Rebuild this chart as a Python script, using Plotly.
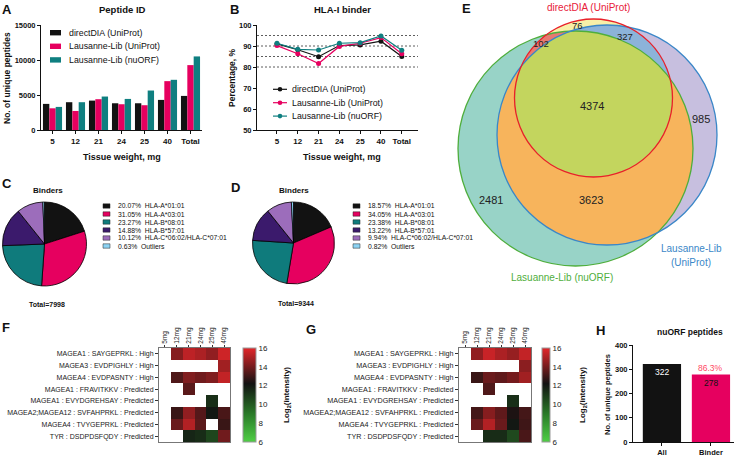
import numpy as np
import plotly.graph_objects as go

W, H = 734, 456
FONT = "Liberation Sans, Arial, Helvetica, sans-serif"


def px(x):
    return x / W


def py(y):
    return 1 - y / H


# ---------------- data ----------------
weights = ["5", "12", "21", "24", "25", "40", "Total"]
series_names = ["directDIA (UniProt)", "Lausanne-Lib (UniProt)", "Lausanne-Lib (nuORF)"]

peptides_direct = [3730, 3970, 4200, 3820, 3820, 4300, 4870]
peptides_laus_uni = [3100, 2720, 4400, 3680, 3540, 6980, 9270]
peptides_laus_nuorf = [3300, 3970, 4780, 4440, 5640, 7170, 10510]

binder_direct = [91.0, 88.2, 84.9, 90.2, 90.5, 92.3, 85.0]
binder_laus_uni = [90.2, 86.3, 81.7, 89.8, 91.3, 94.0, 86.3]
binder_laus_nuorf = [91.3, 88.4, 88.1, 91.3, 91.6, 94.8, 88.0]
binder_thresholds = [80, 85, 90, 95]

allele_labels = ["HLA-A*01:01", "HLA-A*03:01", "HLA-B*08:01", "HLA-B*57:01",
                 "HLA-C*06:02/HLA-C*07:01", "Outliers"]
pie_c_values = [20.07, 31.05, 23.27, 14.88, 10.12, 0.63]
pie_d_values = [18.57, 34.05, 23.38, 13.22, 9.94, 0.82]
pie_c_total = 7998
pie_d_total = 9344

venn_counts = {"76": "R", "102": "RG", "327": "RB", "4374": "RGB",
               "985": "B", "2481": "G", "3623": "GB"}

hm_cols = ["5mg", "12mg", "21mg", "24mg", "25mg", "40mg"]
hm_rows = ["MAGEA1 : SAYGEPRKL : High", "MAGEA3 : EVDPIGHLY : High",
           "MAGEA4 : EVDPASNTY : High", "MAGEA1 : FRAVITKKV : Predicted",
           "MAGEA1 : EVYDGREHSAY : Predicted", "MAGEA2;MAGEA12 : SVFAHPRKL : Predicted",
           "MAGEA4 : TVYGEPRKL : Predicted", "TYR : DSDPDSFQDY : Predicted"]
hm_f = [
    [None, 14.3, 15.3, 15.0, 14.5, 15.6],
    [None, None, None, None, None, 14.8],
    [None, 13.3, 14.2, 13.9, 14.2, 15.4],
    [None, None, 13.5, None, None, None],
    [None, None, None, None, 11.3, None],
    [None, 12.9, 14.5, 13.4, 12.0, 13.2],
    [None, 13.8, 15.1, 13.5, None, 12.9],
    [None, None, 11.6, 11.4, 10.6, 13.9],
]
hm_g = [
    [None, 14.5, 15.5, 15.0, 14.6, 15.4],
    [None, None, None, None, None, 14.4],
    [None, 12.9, 13.8, 13.6, 14.0, 14.8],
    [None, None, 13.3, None, None, None],
    [None, None, None, None, 11.3, None],
    [None, 13.1, 14.3, 13.6, 12.4, 13.1],
    [None, 13.8, 15.1, 13.8, 12.0, 13.0],
    [None, None, 11.4, 11.4, 10.5, 13.2],
]

nuorf_cats = ["All", "Binder"]
nuorf_vals = [322, 278]

# ---------------- styles ----------------
BLACK = "#121212"
PINK = "#e6005f"
TEAL = "#0f7f80"
series_colors = [BLACK, PINK, TEAL]
pie_colors = ["#121212", "#e6005f", "#0f7b7c", "#3b1a6c", "#9c6dbb", "#8dd3f3"]
hm_scale = [[0.0, "#4fcf45"], [0.3, "#2a7a28"], [0.62, "#121212"], [1.0, "#e3262a"]]

fig = go.Figure()

# ---- A: grouped bars ----
for name, vals, col in zip(series_names,
                           [peptides_direct, peptides_laus_uni, peptides_laus_nuorf],
                           series_colors):
    fig.add_trace(go.Bar(x=weights, y=vals, name=name, marker=dict(color=col, line=dict(width=0)),
                         xaxis="x", yaxis="y", showlegend=False))

# ---- B: lines ----
for name, vals, col in zip(series_names,
                           [binder_direct, binder_laus_uni, binder_laus_nuorf],
                           series_colors):
    fig.add_trace(go.Scatter(x=weights, y=vals, name=name, mode="lines+markers",
                             line=dict(color=col, width=1.2), marker=dict(size=5, color=col),
                             xaxis="x2", yaxis="y2", showlegend=False))

# ---- C / D: pies ----
for vals, (x0, x1, y0, y1) in [(pie_c_values, (2.5, 86.5, 202, 286)),
                               (pie_d_values, (252.5, 334.5, 202, 284))]:
    fig.add_trace(go.Pie(values=vals, labels=allele_labels, sort=False, direction="clockwise",
                         rotation=0, textinfo="none",
                         marker=dict(colors=pie_colors, line=dict(color="black", width=0.8)),
                         domain=dict(x=[px(x0), px(x1)], y=[py(y1), py(y0)]),
                         showlegend=False))

# ---- E: Venn (region colouring as image) ----
circ_R = (593.5, 98.0, 79.0)
circ_B = (607.0, 135.0, 110.0)
circ_G = (575.5, 148.5, 117.5)
vx0, vx1, vy0, vy1 = 450, 726, 12, 272
xs = np.arange(vx0, vx1) + 0.5
ys = np.arange(vy0, vy1) + 0.5
XX, YY = np.meshgrid(xs, ys)


def inside(c):
    return (XX - c[0]) ** 2 + (YY - c[1]) ** 2 <= c[2] ** 2


inR, inB, inG = inside(circ_R), inside(circ_B), inside(circ_G)
region_colors = {
    "R": (248, 240, 168), "B": (199, 191, 223), "G": (152, 211, 199),
    "RB": (140, 179, 217), "RG": (232, 122, 112), "GB": (247, 180, 92),
    "RGB": (195, 213, 94),
}
img = np.full(XX.shape + (3,), 255, dtype=np.uint8)
masks = {
    "G": inG & ~inB & ~inR, "B": inB & ~inG & ~inR, "R": inR & ~inB & ~inG,
    "GB": inG & inB & ~inR, "RB": inR & inB & ~inG, "RG": inR & inG & ~inB,
    "RGB": inR & inG & inB,
}
for k, m in masks.items():
    img[m] = region_colors[k]
fig.add_trace(go.Image(z=img, x0=vx0 + 0.5, dx=1, y0=vy0 + 0.5, dy=1,
                       xaxis="x3", yaxis="y3", hoverinfo="skip"))

# ---- F / G heatmaps ----
for z, xa, ya, cbx, cbt in [(hm_f, "x4", "y4", 243, 13), (hm_g, "x5", "y5", 542, 8)]:
    fig.add_trace(go.Heatmap(
        z=z, x=hm_cols, y=hm_rows, xaxis=xa, yaxis=ya, colorscale=hm_scale,
        zmin=6, zmax=16, hoverongaps=False,
        colorbar=dict(x=px(cbx), xanchor="left", xpad=0, ypad=0, thickness=cbt,
                      thicknessmode="pixels", len=94, lenmode="pixels",
                      y=py(395), yanchor="middle", tickvals=[6, 8, 10, 12, 14, 16],
                      ticks="", tickfont=dict(family=FONT, size=8, color="#222"),
                      outlinewidth=1, outlinecolor="#999")))

# ---- H bars ----
fig.add_trace(go.Bar(x=nuorf_cats, y=nuorf_vals, width=0.78,
                     marker=dict(color=[BLACK, PINK], line=dict(width=0)),
                     xaxis="x6", yaxis="y6", showlegend=False))

# ---------------- axes ----------------
tick_bold = dict(family=FONT, size=7.5, color="#111", weight="bold")
base_ax = dict(showgrid=False, zeroline=False, showline=True, linecolor="#111", linewidth=1,
               ticks="outside", ticklen=3, tickwidth=1, tickcolor="#111", tickfont=tick_bold,
               automargin=False)
hm_ax = dict(showline=True, mirror=True, linecolor="#777", linewidth=1, showgrid=False,
             zeroline=False, ticks="outside", tickcolor="#333", automargin=False)

fig.update_layout(
    xaxis=dict(base_ax, domain=[px(41), px(202)], anchor="y", type="category",
               tickfont=dict(tick_bold, size=8)),
    yaxis=dict(base_ax, domain=[py(130), py(25)], anchor="x", range=[0, 15000],
               tickvals=[0, 5000, 10000, 15000], tickformat="d"),
    xaxis2=dict(base_ax, domain=[px(257), px(418)], anchor="y2", type="category",
                range=[-0.96, 6.78], tickfont=dict(tick_bold, size=8)),
    yaxis2=dict(base_ax, domain=[py(130), py(25)], anchor="x2", range=[50, 100],
                tickvals=[50, 60, 70, 80, 90, 100]),
    xaxis3=dict(domain=[px(vx0), px(vx1)], anchor="y3", range=[vx0, vx1], visible=False),
    yaxis3=dict(domain=[py(vy1), py(vy0)], anchor="x3", range=[vy1, vy0], visible=False),
    xaxis4=dict(hm_ax, domain=[px(159), px(230)], anchor="y4", side="top", tickangle=-90,
                ticklen=2, tickfont=dict(family=FONT, size=6.5, color="#222")),
    yaxis4=dict(hm_ax, domain=[py(442), py(348)], anchor="x4", autorange="reversed",
                ticklen=3, tickfont=dict(family=FONT, size=7, color="#222")),
    xaxis5=dict(hm_ax, domain=[px(459), px(531)], anchor="y5", side="top", tickangle=-90,
                ticklen=2, tickfont=dict(family=FONT, size=6.5, color="#222")),
    yaxis5=dict(hm_ax, domain=[py(442), py(348)], anchor="x5", autorange="reversed",
                ticklen=3, tickfont=dict(family=FONT, size=7.2, color="#222")),
    xaxis6=dict(base_ax, domain=[px(633), px(734)], anchor="y6", type="category",
                range=[-0.59, 1.47], tickfont=dict(tick_bold, size=7.5)),
    yaxis6=dict(base_ax, domain=[py(442), py(345)], anchor="x6", range=[0, 400],
                tickvals=[0, 100, 200, 300, 400]),
)

# ---------------- shapes & annotations ----------------
shapes = []
ann = []


def text(x, y, s, size=8, bold=False, color="#111", angle=0, xanchor="center", **kw):
    ann.append(dict(x=px(x), y=py(y), xref="paper", yref="paper", text=s, showarrow=False,
                    textangle=angle, xanchor=xanchor, yanchor="middle",
                    font=dict(family=FONT, size=size, color=color,
                              weight="bold" if bold else "normal"), **kw))


# dashed reference lines in B
for v in binder_thresholds:
    shapes.append(dict(type="line", xref="paper", yref="y2", x0=px(257), x1=px(418), y0=v, y1=v,
                       line=dict(color="#333", width=0.8, dash="2px,2px"), layer="below"))

# A legend
for i, (name, col) in enumerate(zip(series_names, series_colors)):
    yc = 32.7 + i * 13.6
    shapes.append(dict(type="rect", xref="paper", yref="paper", x0=px(50), x1=px(61),
                       y0=py(yc + 2.7), y1=py(yc - 2.7), fillcolor=col, line=dict(width=0)))
    text(67, yc, name, size=8.8, xanchor="left")

# B legend
for i, (name, col) in enumerate(zip(series_names, series_colors)):
    yc = 89.3 + i * 13.4
    shapes.append(dict(type="line", xref="paper", yref="paper", x0=px(273), x1=px(287),
                       y0=py(yc), y1=py(yc), line=dict(color=col, width=1.2)))
    shapes.append(dict(type="circle", xref="paper", yref="paper", x0=px(277.7), x1=px(282.3),
                       y0=py(yc + 2.3), y1=py(yc - 2.3), fillcolor=col, line=dict(width=0)))
    text(290, yc, name, size=8.8, xanchor="left")

# pie legends
for vals, sx in [(pie_c_values, 103), (pie_d_values, 353)]:
    for i, (v, lab, col) in enumerate(zip(vals, allele_labels, pie_colors)):
        yc = 206 + i * 8
        shapes.append(dict(type="rect", xref="paper", yref="paper", x0=px(sx), x1=px(sx + 7),
                           y0=py(yc + 2.2), y1=py(yc - 2.2), fillcolor=col,
                           line=dict(color="#222", width=0.5)))
        text(sx + 13, yc, f"{v:.2f}%\u00a0\u00a0{lab}", size=6.8, xanchor="left")

# Venn outlines
for c, col in [(circ_G, "#4fae3c"), (circ_B, "#3a87c8"), (circ_R, "#e8202a")]:
    shapes.append(dict(type="circle", xref="x3", yref="y3", x0=c[0] - c[2], x1=c[0] + c[2],
                       y0=c[1] - c[2], y1=c[1] + c[2], line=dict(color=col, width=1.3)))

venn_pos = {"R": (577, 26), "RG": (541, 44), "RB": (625, 37), "RGB": (592, 106),
            "B": (701, 119), "G": (491, 200), "GB": (591, 200)}
for count, region in venn_counts.items():
    x, y = venn_pos[region]
    sz = 11 if region in ("RGB", "GB", "G", "B") else 9.5
    ann.append(dict(x=x, y=y, xref="x3", yref="y3", text=count, showarrow=False,
                    font=dict(family=FONT, size=sz, color="#222")))
text(588, 7.5, "directDIA (UniProt)", size=10, color="#e8203a")
text(691, 248, "Lausanne-Lib", size=10, color="#3a87c8")
text(691, 262, "(UniProt)", size=10, color="#3a87c8")
text(562, 277, "Lasuanne-Lib (nuORF)", size=10, color="#4fae3c")

# H labels
ann.append(dict(x="All", y=nuorf_vals[0], xref="x6", yref="y6", text=str(nuorf_vals[0]),
                showarrow=False, yanchor="top", yshift=-1,
                font=dict(family=FONT, size=8.5, color="white")))
ann.append(dict(x="Binder", y=nuorf_vals[1], xref="x6", yref="y6", text=str(nuorf_vals[1]),
                showarrow=False, yanchor="top", yshift=-1,
                font=dict(family=FONT, size=8.5, color="#111")))
ann.append(dict(x="Binder", y=nuorf_vals[1], xref="x6", yref="y6",
                text=f"{nuorf_vals[1] / nuorf_vals[0] * 100:.1f}%",
                showarrow=False, yanchor="bottom", yshift=0,
                font=dict(family=FONT, size=8.5, color="#ff4a64")))

# titles / panel letters / axis titles
text(7, 10, "A", size=13, bold=True)
text(122, 10, "Peptide ID", size=9.5, bold=True)
text(7, 78, "No. of unique peptides", size=8.5, bold=True, angle=-90)
text(122, 157, "Tissue weight, mg", size=9, bold=True)

text(234, 9, "B", size=13, bold=True)
text(342, 10, "HLA-I binder", size=9.5, bold=True)
text(232, 78, "Percentage, %", size=8.5, bold=True, angle=-90)
text(342, 157, "Tissue weight, mg", size=9, bold=True)

text(7, 183, "C", size=13, bold=True)
text(48, 190, "Binders", size=8, bold=True)
text(47, 304, f"Total={pie_c_total}", size=7, bold=True)

text(235, 187, "D", size=13, bold=True)
text(294, 190, "Binders", size=8, bold=True)
text(296, 303, f"Total={pie_d_total}", size=7, bold=True)

text(466, 8, "E", size=13, bold=True)

text(6, 327, "F", size=13, bold=True)
text(287, 395, "Log<sub>2</sub>(intensity)", size=8, bold=True, angle=-90)

text(311, 329, "G", size=13, bold=True)
text(583, 395, "Log<sub>2</sub>(intensity)", size=8, bold=True, angle=-90)

text(600, 330, "H", size=13, bold=True)
text(690, 332, "nuORF peptides", size=8.5, bold=True)
text(607, 395, "No. of unique peptides", size=7.5, bold=True, angle=-90)

fig.update_layout(
    width=W, height=H, margin=dict(l=0, r=0, t=0, b=0, autoexpand=False),
    paper_bgcolor="white", plot_bgcolor="white",
    barmode="group", bargap=0.17, bargroupgap=0,
    font=dict(family=FONT, color="#111"),
    shapes=shapes, annotations=ann, showlegend=False,
)

fig.write_html("out.html", config={"displayModeBar": False},
               post_script="document.body.style.margin='0';document.body.style.padding='0';"
                           "document.body.style.overflow='hidden';")
